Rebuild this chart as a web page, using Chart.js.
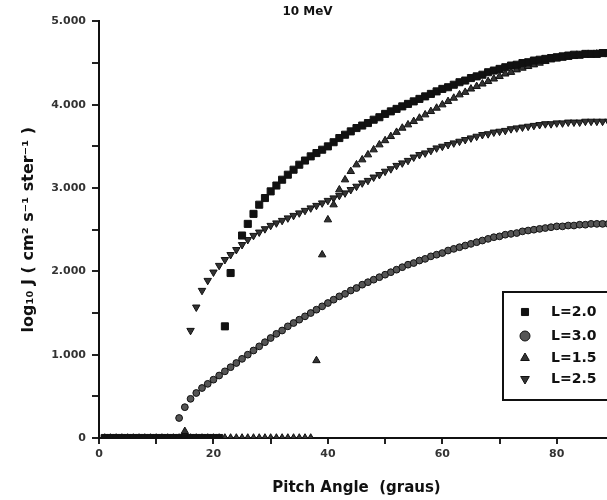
<!DOCTYPE html>
<html lang="pt-br">
<head>
    <meta charset="UTF-8">
    <title>10 MeV - Pitch Angle</title>
    <script src="https://cdn.jsdelivr.net/npm/chart.js"></script>
    <style>
        html, body {
            margin: 0;
            padding: 0;
            background: #ffffff;
            overflow: hidden;
        }
        #wrap {
            position: relative;
            width: 620px;
            height: 500px;
        }
    </style>
</head>
<body>
    <div id="wrap"><canvas id="myChart"></canvas></div>

    <script>
        // angulos (graus), 0..90
        const angles = [0,1,2,3,4,5,6,7,8,9,10,11,12,13,14,15,16,17,18,19,20,
            21,22,23,24,25,26,27,28,29,30,31,32,33,34,35,36,37,38,39,40,
            41,42,43,44,45,46,47,48,49,50,51,52,53,54,55,56,57,58,59,60,
            61,62,63,64,65,66,67,68,69,70,71,72,73,74,75,76,77,78,79,80,
            81,82,83,84,85,86,87,88,89,90];

        // log10 J, um valor por angulo (null = sem ponto)
        const fluxL20 = [null,
            0,0,0,0,0,0,0,0,0,0,
            0,0,0,0,0,0,0,0,0,0,
            0,1.34,1.98,null,2.43,2.57,2.69,2.80,2.88,2.96,
            3.03,3.10,3.16,3.22,3.28,3.33,3.38,3.42,3.46,3.50,
            3.55,3.60,3.64,3.68,3.72,3.75,3.78,3.82,3.85,3.89,
            3.92,3.95,3.98,4.01,4.04,4.07,4.10,4.13,4.16,4.19,
            4.21,4.24,4.27,4.29,4.32,4.34,4.36,4.39,4.41,4.43,
            4.45,4.47,4.48,4.50,4.51,4.53,4.54,4.55,4.56,4.57,
            4.58,4.59,4.60,4.60,4.61,4.61,4.61,4.62,4.62,4.62];

        const fluxL30 = [null,
            0,0,0,0,0,0,0,0,0,0,
            0,0,0,0.24,0.37,0.47,0.54,0.60,0.65,0.70,
            0.75,0.80,0.85,0.90,0.95,1.00,1.05,1.10,1.15,1.20,
            1.25,1.29,1.34,1.38,1.42,1.46,1.50,1.54,1.58,1.62,
            1.66,1.70,1.73,1.77,1.80,1.84,1.87,1.90,1.93,1.96,
            1.99,2.02,2.05,2.08,2.10,2.13,2.15,2.18,2.20,2.22,
            2.25,2.27,2.29,2.31,2.33,2.35,2.37,2.39,2.41,2.42,
            2.44,2.45,2.46,2.48,2.49,2.50,2.51,2.52,2.53,2.54,
            2.54,2.55,2.55,2.56,2.56,2.57,2.57,2.57,2.57,2.57];

        const fluxL15 = [null,
            0,0,0,0,0,0,0,0,0,0,
            0,0,0,0,0.08,0,0,0,0,0,
            0,0,0,0,0,0,0,0,0,0,
            0,0,0,0,0,0,0,0.93,2.20,2.62,
            2.80,2.98,3.10,3.20,3.28,3.34,3.40,3.46,3.52,3.57,
            3.62,3.67,3.72,3.76,3.80,3.84,3.88,3.92,3.96,4.00,
            4.04,4.08,4.12,4.15,4.19,4.22,4.25,4.28,4.31,4.34,
            4.37,4.39,4.42,4.44,4.46,4.48,4.50,4.52,4.54,4.55,
            4.56,4.57,4.58,4.59,4.60,4.60,4.61,4.61,4.61,4.62];

        const fluxL25 = [null,
            0,0,0,0,0,0,0,0,0,0,
            0,0,0,0,0,1.29,1.57,1.77,1.89,1.99,
            2.07,2.14,2.20,2.26,2.32,2.38,2.43,2.47,2.51,2.55,
            2.58,2.61,2.64,2.67,2.70,2.73,2.76,2.79,2.82,2.85,
            2.88,2.91,2.94,2.98,3.02,3.06,3.09,3.13,3.16,3.20,
            3.23,3.27,3.30,3.33,3.37,3.40,3.42,3.45,3.48,3.50,
            3.52,3.54,3.56,3.58,3.60,3.62,3.64,3.65,3.67,3.68,
            3.69,3.71,3.72,3.73,3.74,3.75,3.76,3.77,3.77,3.78,
            3.78,3.79,3.79,3.79,3.80,3.80,3.80,3.80,3.80,3.80];

        const seriesLabels = ['L=2.0', 'L=3.0', 'L=1.5', 'L=2.5'];
        const xTicks = [0, 20, 40, 60, 80];

        function pontos(valores) {
            const out = [];
            angles.forEach((a, i) => {
                if (valores[i] !== null) out.push({ x: a, y: valores[i] });
            });
            return out;
        }

        const fonte = "'DejaVu Sans', 'Liberation Sans', sans-serif";

        // legenda desenhada dentro do grafico, com borda
        const legendaBox = {
            id: 'legendaBox',
            afterDraw(chart) {
                const ctx = chart.ctx;
                ctx.save();
                ctx.strokeStyle = '#111';
                ctx.lineWidth = 2;
                ctx.strokeRect(503, 292, 140, 108);
                ctx.font = 'bold 14px ' + fonte;
                ctx.textBaseline = 'middle';
                const linhas = [312, 336, 358, 379];
                chart.data.datasets.forEach((ds, i) => {
                    ctx.fillStyle = ds.backgroundColor;
                    ctx.strokeStyle = ds.borderColor;
                    ctx.lineWidth = 1;
                    Chart.helpers.drawPoint(ctx, {
                        pointStyle: ds.pointStyle,
                        rotation: ds.pointRotation || 0,
                        radius: 5,
                        borderWidth: 1
                    }, 525, linhas[i]);
                    ctx.fillStyle = '#111';
                    ctx.fillText(ds.label, 551, linhas[i]);
                });
                ctx.restore();
            }
        };

        const ctx = document.getElementById('myChart').getContext('2d');
        const chart = new Chart(ctx, {
            type: 'scatter',
            data: {
                datasets: [{
                    label: seriesLabels[0],
                    data: pontos(fluxL20),
                    pointStyle: 'rect',
                    backgroundColor: '#111',
                    borderColor: '#111',
                    pointRadius: 5,
                    borderWidth: 1
                }, {
                    label: seriesLabels[1],
                    data: pontos(fluxL30),
                    pointStyle: 'circle',
                    backgroundColor: '#555',
                    borderColor: '#111',
                    pointRadius: 3.4,
                    borderWidth: 1
                }, {
                    label: seriesLabels[2],
                    data: pontos(fluxL15),
                    pointStyle: 'triangle',
                    backgroundColor: '#333',
                    borderColor: '#111',
                    pointRadius: 4.3,
                    borderWidth: 1
                }, {
                    label: seriesLabels[3],
                    data: pontos(fluxL25),
                    pointStyle: 'triangle',
                    pointRotation: 180,
                    backgroundColor: '#333',
                    borderColor: '#111',
                    pointRadius: 4.3,
                    borderWidth: 1
                }]
            },
            options: {
                responsive: true,
                maintainAspectRatio: false,
                animation: false,
                layout: { padding: { top: 0, right: 5, bottom: 0, left: 0 } },
                scales: {
                    x: {
                        type: 'linear',
                        min: 0,
                        max: 90,
                        afterFit(scale) { scale.height = 62; },
                        border: { display: true, color: '#111', width: 2 },
                        grid: { display: true, drawOnChartArea: false, drawTicks: true, tickLength: 6, color: '#222', lineWidth: 2 },
                        ticks: {
                            stepSize: 10,
                            color: '#333',
                            padding: 4,
                            font: { family: fonte, size: 11, weight: 'bold' },
                            callback: v => xTicks.includes(v) ? String(v) : ''
                        },
                        title: {
                            display: true,
                            text: 'Pitch Angle  (graus)',
                            color: '#111',
                            font: { family: fonte, size: 15, weight: 'bold' },
                            padding: { top: 0, bottom: 3 }
                        }
                    },
                    y: {
                        min: 0,
                        max: 5,
                        afterFit(scale) { scale.width = 99; },
                        border: { display: true, color: '#111', width: 2 },
                        grid: { display: true, drawOnChartArea: false, drawTicks: true, tickLength: 7, color: '#222', lineWidth: 2 },
                        ticks: {
                            stepSize: 0.5,
                            color: '#333',
                            padding: 6,
                            font: { family: fonte, size: 11, weight: 'bold' },
                            callback: v => Number.isInteger(v) ? (v === 0 ? '0' : v.toFixed(3)) : ''
                        },
                        title: {
                            display: true,
                            text: 'log\u2081\u2080 J ( cm\u00b2 s\u207b\u00b9 ster\u207b\u00b9 )',
                            color: '#111',
                            font: { family: fonte, size: 16, weight: 'bold' },
                            padding: { top: 19, bottom: 0 }
                        }
                    }
                },
                plugins: {
                    legend: { display: false },
                    tooltip: { enabled: false },
                    title: {
                        display: true,
                        text: '10 MeV',
                        color: '#111',
                        font: { family: fonte, size: 12, weight: 'bold' },
                        padding: { top: 5, bottom: 2 }
                    }
                }
            },
            plugins: [legendaBox]
        });
    </script>
</body>
</html>
